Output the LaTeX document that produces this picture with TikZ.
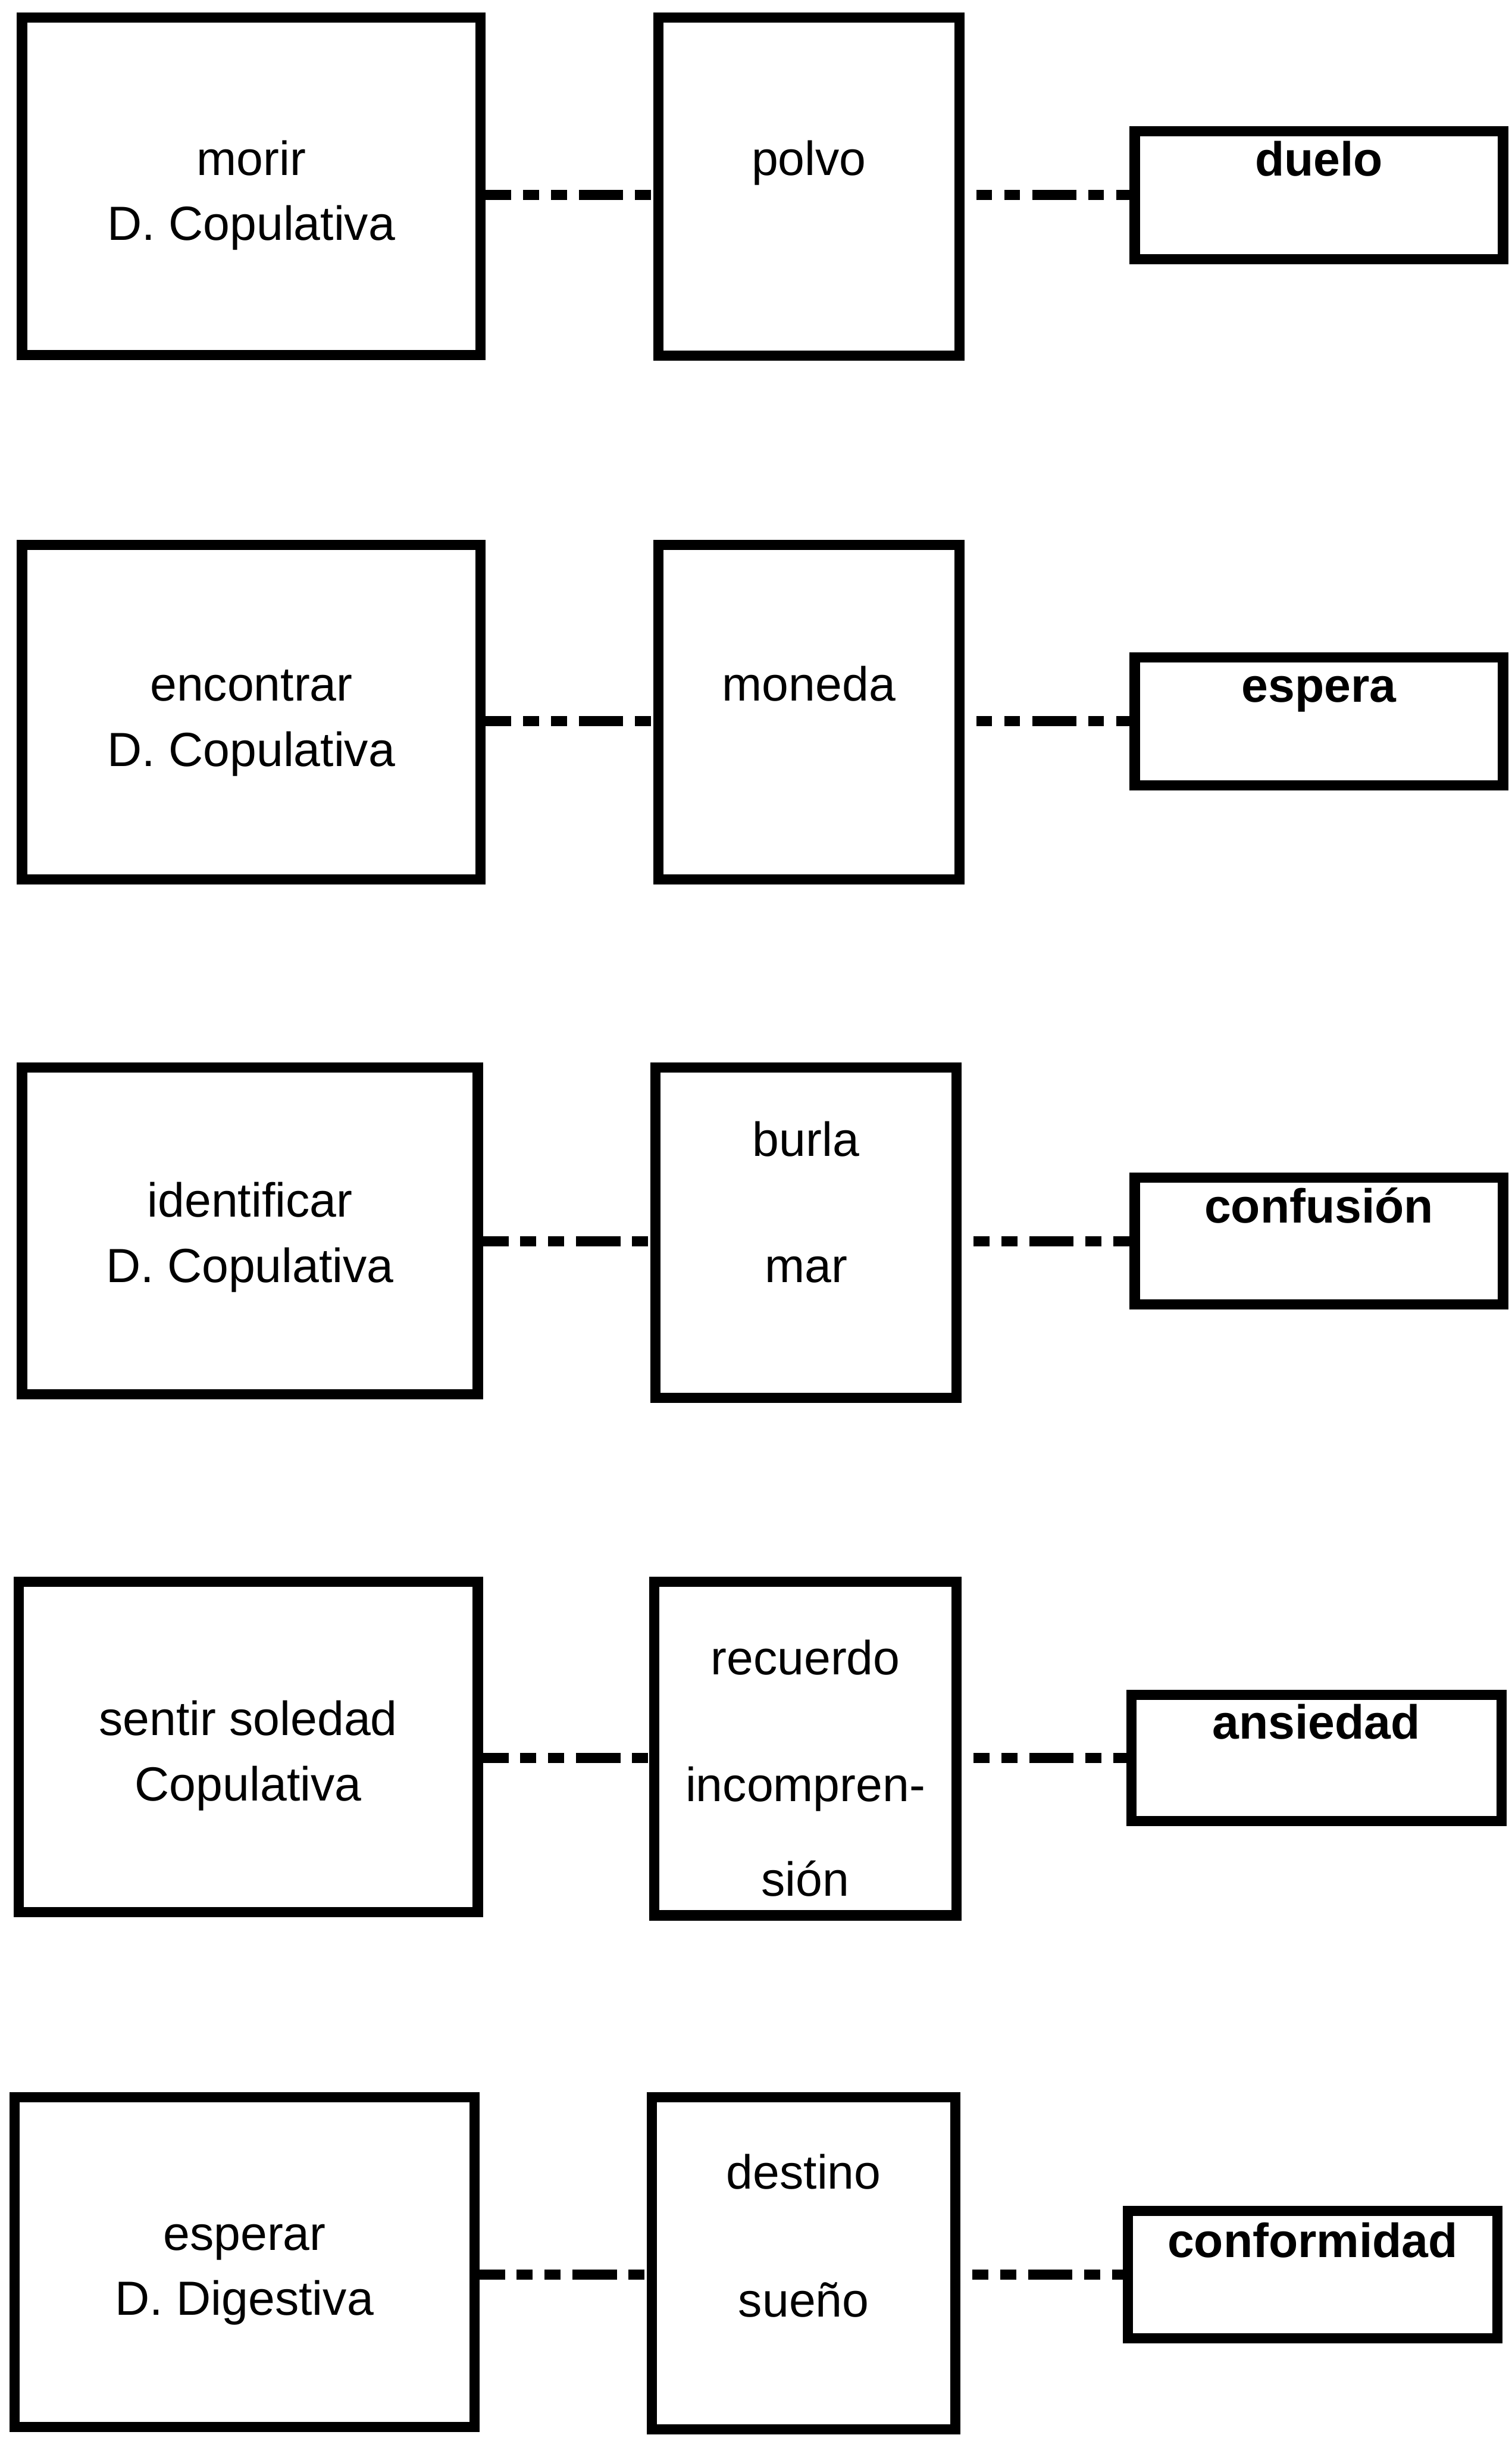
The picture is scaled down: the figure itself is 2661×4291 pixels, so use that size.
\documentclass[tikz,border=0pt]{standalone}
\usepackage{fontspec}
\setmainfont{Liberation Sans}
\begin{document}
\begin{tikzpicture}[x=0.01cm, y=-0.01cm,
  box/.style={draw=black, line width=5.1pt, rectangle, outer sep=0pt, inner sep=0pt},
  txt/.style={anchor=base, inner sep=0pt, font=\fontsize{24}{28}\selectfont},
  btxt/.style={txt, font=\fontsize{24}{28}\selectfont\bfseries},
  link/.style={draw=black, line width=5pt,
    dash pattern=on 22.2pt off 5.8pt on 8pt off 6pt on 8pt off 6pt}]
\useasboundingbox (0,0) rectangle (2661,4291);

% ---- row 1 ----
\node[box, minimum width=8.07cm, minimum height=5.94cm] (L1) at (442.5,328) {};
\node[box, minimum width=5.30cm, minimum height=5.95cm] (M1) at (1424,328.5) {};
\node[box, minimum width=6.48cm, minimum height=2.25cm] (R1) at (2322,343.5) {};
\node[txt] (l1a) at (442.5,308) {morir};
\node[txt] (l1b) at (442.5,423) {D. Copulativa};
\node[txt] (m1a) at (1424,308) {polvo};
\node[btxt] (r1a) at (2322,310) {duelo};
\draw[link, dash phase=6.8pt] (L1.east |- R1.west) -- (M1.west |- R1.west);
\draw[link, dash phase=19.6pt] (M1.east |- R1.west) -- (R1.west);

% ---- row 2 ----
\node[box, minimum width=8.07cm, minimum height=5.89cm] (L2) at (442.5,1253.5) {};
\node[box, minimum width=5.30cm, minimum height=5.89cm] (M2) at (1424,1253.5) {};
\node[box, minimum width=6.48cm, minimum height=2.25cm] (R2) at (2322,1269.5) {};
\node[txt] (l2a) at (442.5,1234) {encontrar};
\node[txt] (l2b) at (442.5,1349) {D. Copulativa};
\node[txt] (m2a) at (1424,1234) {moneda};
\node[btxt] (r2a) at (2322,1236) {espera};
\draw[link, dash phase=6.8pt] (L2.east |- R2.west) -- (M2.west |- R2.west);
\draw[link, dash phase=19.6pt] (M2.east |- R2.west) -- (R2.west);

% ---- row 3 ----
\node[box, minimum width=8.02cm, minimum height=5.75cm] (L3) at (440,2166.5) {};
\node[box, minimum width=5.30cm, minimum height=5.81cm] (M3) at (1419,2169.5) {};
\node[box, minimum width=6.48cm, minimum height=2.23cm] (R3) at (2322,2184.5) {};
\node[txt] (l3a) at (440,2142) {identificar};
\node[txt] (l3b) at (440,2257) {D. Copulativa};
\node[txt] (m3a) at (1419,2035) {burla};
\node[txt] (m3b) at (1419,2257) {mar};
\node[btxt] (r3a) at (2322,2152) {confusión};
\draw[link, dash phase=6.8pt] (L3.east |- R3.west) -- (M3.west |- R3.west);
\draw[link, dash phase=19.6pt] (M3.east |- R3.west) -- (R3.west);

% ---- row 4 ----
\node[box, minimum width=8.08cm, minimum height=5.81cm] (L4) at (437,3074.5) {};
\node[box, minimum width=5.32cm, minimum height=5.87cm] (M4) at (1418,3077.5) {};
\node[box, minimum width=6.51cm, minimum height=2.22cm] (R4) at (2317.5,3094) {};
\node[txt] (l4a) at (437,3054) {sentir soledad};
\node[txt] (l4b) at (437,3169) {Copulativa};
\node[txt] (m4a) at (1418,2947) {recuerdo};
\node[txt] (m4b) at (1418,3171) {incompren-};
\node[txt] (m4c) at (1418,3337) {sión};
\node[btxt] (r4a) at (2317.5,3061) {ansiedad};
\draw[link, dash phase=6.8pt] (L4.east |- R4.west) -- (M4.west |- R4.west);
\draw[link, dash phase=19.6pt] (M4.east |- R4.west) -- (R4.west);

% ---- row 5 ----
\node[box, minimum width=8.09cm, minimum height=5.80cm] (L5) at (430.5,3981) {};
\node[box, minimum width=5.34cm, minimum height=5.85cm] (M5) at (1415,3983.5) {};
\node[box, minimum width=6.50cm, minimum height=2.24cm] (R5) at (2311,4003) {};
\node[txt] (l5a) at (430.5,3960) {esperar};
\node[txt] (l5b) at (430.5,4075) {D. Digestiva};
\node[txt] (m5a) at (1415,3853) {destino};
\node[txt] (m5b) at (1415,4078) {sueño};
\node[btxt] (r5a) at (2311,3973) {conformidad};
\draw[link, dash phase=6.8pt] (L5.east |- R5.west) -- (M5.west |- R5.west);
\draw[link, dash phase=19.6pt] (M5.east |- R5.west) -- (R5.west);
\end{tikzpicture}
\end{document}
